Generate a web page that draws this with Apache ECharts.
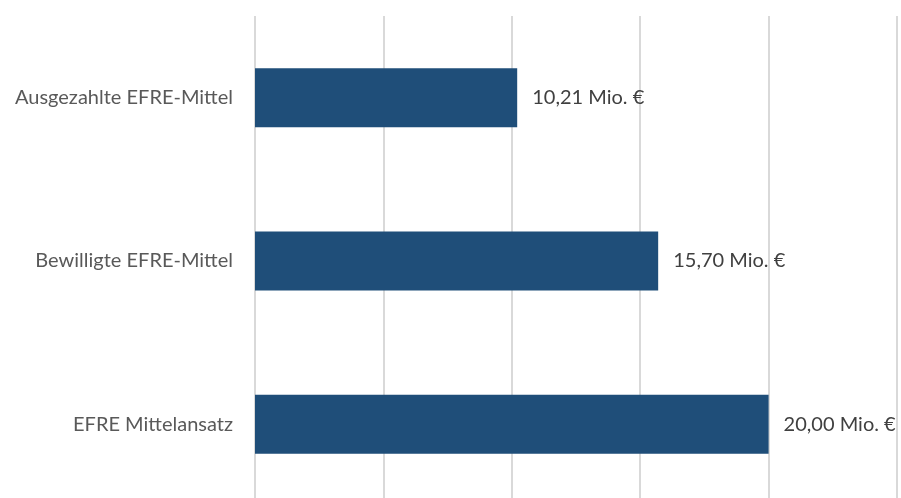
<!DOCTYPE html>
<html><head><meta charset="utf-8">
<script src="https://cdn.jsdelivr.net/npm/echarts@6/dist/echarts.min.js"></script>
<style>html,body{margin:0;padding:0;background:#fff;overflow:hidden}#c{width:901px;height:520px}</style>
</head><body><div id="c"></div>
<script>
const categories = ["EFRE Mittelansatz", "Bewilligte EFRE-Mittel", "Ausgezahlte EFRE-Mittel"];
const values = [20.00, 15.70, 10.21];
const xMin = 0, xMax = 25, xStep = 5;

const chart = echarts.init(document.getElementById('c'));
chart.setOption({
  animation: false,
  grid: { left: 255, right: 4, top: 16, height: 490, containLabel: false },
  xAxis: {
    type: 'value', min: xMin, max: xMax, interval: xStep,
    axisLabel: { show: false }, axisLine: { show: false }, axisTick: { show: false },
    splitLine: { show: true, lineStyle: { color: '#d9d9d9', width: 2 } }
  },
  yAxis: {
    type: 'category', data: categories,
    axisLine: { show: false }, axisTick: { show: false },
    axisLabel: { color: '#595959', fontSize: 20, fontFamily: 'Lato', margin: 22 }
  },
  series: [{
    type: 'bar', data: values, barWidth: 59,
    itemStyle: { color: '#1F4E79' },
    label: {
      show: true, position: 'right', distance: 15,
      color: '#404040', fontSize: 20, fontFamily: 'Lato',
      formatter: p => p.value.toFixed(2).replace('.', ',') + ' Mio. €'
    }
  }]
});
</script></body></html>
